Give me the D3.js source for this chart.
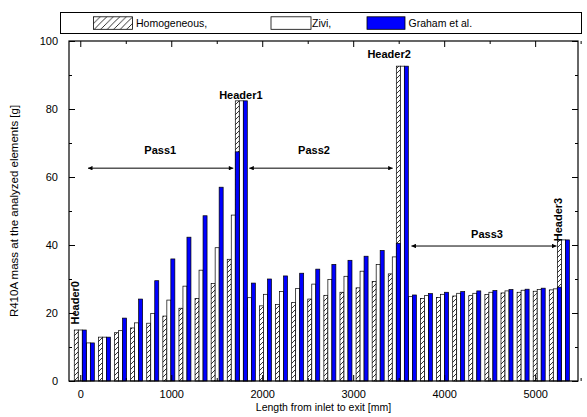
<!DOCTYPE html>
<html>
<head>
<meta charset="utf-8">
<script src="https://cdn.jsdelivr.net/npm/d3@7"></script>
<style>
  html, body { margin: 0; padding: 0; background: #fff; }
  svg { display: block; font-family: "Liberation Sans", Arial, sans-serif; }
</style>
</head>
<body>
<svg id="chart" width="587" height="417"></svg>
<script>
// ---- data ----
const positions = [0, 88.5, 265.5, 442.5, 619.5, 796.5, 973.5, 1150.5, 1327.5, 1504.5, 1681.5,
  1770, 1858.5, 2035.5, 2212.5, 2389.5, 2566.5, 2743.5, 2920.5, 3097.5, 3274.5, 3451.5,
  3540, 3628.5, 3805.5, 3982.5, 4159.5, 4336.5, 4513.5, 4690.5, 4867.5, 5044.5, 5221.5, 5310];
const homogeneous = [15, 11, 12.9, 14.2, 15.6, 17.0, 19.1, 21.4, 24.3, 28.7, 35.8,
  82.4, 21.5, 22.1, 22.5, 23.1, 24.1, 25.2, 26.1, 27.4, 29.3, 31.5,
  92.6, 24.2, 24.3, 24.6, 25.0, 25.1, 25.4, 25.9, 26.1, 26.4, 26.8, 41.5];
const zivi = [15, 11.2, 12.9, 14.8, 17.1, 19.9, 23.8, 27.9, 32.6, 39.2, 48.8,
  82.4, 24.5, 25.5, 26.3, 27.2, 28.5, 29.9, 30.8, 32.3, 34.3, 36.5,
  92.6, 24.8, 25.1, 25.5, 25.8, 25.8, 26.1, 26.5, 26.7, 26.9, 27.1, 41.5];
const graham = [15, 11.2, 12.9, 18.5, 24.1, 29.5, 35.9, 42.3, 48.6, 57.0, 67.4,
  82.4, 28.8, 30.0, 30.9, 31.7, 32.9, 34.3, 35.5, 36.7, 38.4, 40.5,
  92.6, 25.3, 25.7, 26.1, 26.3, 26.5, 26.6, 26.9, 27.0, 27.3, 27.6, 41.5];
const seriesNames = ["Homogeneous,", "Zivi,", "Graham et al."];
const xTicks = [0, 1000, 2000, 3000, 4000, 5000];
const xMinorTicks = [500, 1500, 2500, 3500, 4500, 5500];
const yTicks = [0, 20, 40, 60, 80, 100];
const yMinorTicks = [10, 30, 50, 70, 90];
const headers = [
  {name: "Header0", x: -55, y: 23, rot: true},
  {name: "Header1", x: 1765, y: 84, rot: false},
  {name: "Header2", x: 3395, y: 96.2, rot: false},
  {name: "Header3", x: 5255, y: 47.5, rot: true}
];
const passes = [
  {name: "Pass1", x0: 85, x1: 1682, y: 62.6, lx: 879, ly: 67.9},
  {name: "Pass2", x0: 1858, x1: 3434, y: 62.6, lx: 2569, ly: 67.9},
  {name: "Pass3", x0: 3640, x1: 5235, y: 39.7, lx: 4471, ly: 43.2}
];

// ---- layout ----
const svg = d3.select("#chart");
const L = 69, R = 578, T = 41, B = 381;
const x = d3.scaleLinear().domain([-124, 5471]).range([L, R]);
const y = d3.scaleLinear().domain([0, 100]).range([B, T]);
const barMM = 44; // bar width in mm units
const bw = x(barMM) - x(0);
const offsets = [-barMM, 0, barMM];

const defs = svg.append("defs");
const pat = defs.append("pattern").attr("id", "hatch").attr("patternUnits", "userSpaceOnUse")
  .attr("width", 5).attr("height", 5);
pat.append("rect").attr("width", 5).attr("height", 5).attr("fill", "#fff");
pat.append("path").attr("d", "M-1,1 L1,-1 M0,5 L5,0 M4,6 L6,4")
  .attr("stroke", "#000").attr("stroke-width", 0.8);
const pat2 = defs.append("pattern").attr("id", "hatchL").attr("patternUnits", "userSpaceOnUse")
  .attr("width", 6.5).attr("height", 6.5);
pat2.append("rect").attr("width", 6.5).attr("height", 6.5).attr("fill", "#fff");
pat2.append("path").attr("d", "M-1,1 L1,-1 M0,6.5 L6.5,0 M5.5,7.5 L7.5,5.5")
  .attr("stroke", "#000").attr("stroke-width", 0.8);

const mk = defs.append("marker").attr("id", "arr").attr("viewBox", "0 0 10 10")
  .attr("refX", 10).attr("refY", 5).attr("markerWidth", 8).attr("markerHeight", 4.5)
  .attr("markerUnits", "userSpaceOnUse").attr("orient", "auto-start-reverse");
mk.append("path").attr("d", "M0,0 L10,5 L0,10 Z").attr("fill", "#000");

const fills = ["url(#hatch)", "#fff", "#0000ff"];
const legendFills = ["url(#hatchL)", "#fff", "#0000ff"];
const seriesData = [homogeneous, zivi, graham];

// bars: series drawn in order hatched, white, blue
seriesData.forEach((vals, si) => {
  svg.append("g").selectAll("rect").data(vals).join("rect")
    .attr("x", (d, i) => x(positions[i] + offsets[si]) - bw / 2)
    .attr("width", bw)
    .attr("y", d => y(d))
    .attr("height", d => y(0) - y(d))
    .attr("fill", fills[si])
    .attr("stroke", "#000")
    .attr("stroke-width", 0.7);
});

// axes
const fontSize = "11px";
const fmt = d3.format("d");
function styleAxis(g) {
  g.selectAll("path.domain").remove();
  g.selectAll("line").attr("stroke", "#000").attr("stroke-width", 1);
  g.selectAll("text").attr("font-size", fontSize).attr("fill", "#000")
    .attr("font-family", "'Liberation Sans', Arial, sans-serif");
}
svg.append("g").attr("transform", `translate(0,${B})`)
  .call(d3.axisBottom(x).tickValues(xTicks).tickFormat(fmt).tickSize(-6).tickPadding(9).tickSizeOuter(0)).call(styleAxis);
svg.append("g").attr("transform", `translate(0,${B})`)
  .call(d3.axisBottom(x).tickValues(xMinorTicks).tickSize(-3).tickFormat("").tickSizeOuter(0)).call(styleAxis);
svg.append("g").attr("transform", `translate(0,${T})`)
  .call(d3.axisTop(x).tickValues(xTicks).tickSize(-6).tickFormat("").tickSizeOuter(0)).call(styleAxis);
svg.append("g").attr("transform", `translate(0,${T})`)
  .call(d3.axisTop(x).tickValues(xMinorTicks).tickSize(-3).tickFormat("").tickSizeOuter(0)).call(styleAxis);
svg.append("g").attr("transform", `translate(${L},0)`)
  .call(d3.axisLeft(y).tickValues(yTicks).tickFormat(fmt).tickSize(-6).tickPadding(11).tickSizeOuter(0)).call(styleAxis);
svg.append("g").attr("transform", `translate(${L},0)`)
  .call(d3.axisLeft(y).tickValues(yMinorTicks).tickSize(-3).tickFormat("").tickSizeOuter(0)).call(styleAxis);
svg.append("g").attr("transform", `translate(${R},0)`)
  .call(d3.axisRight(y).tickValues(yTicks).tickSize(-6).tickFormat("").tickSizeOuter(0)).call(styleAxis);
svg.append("g").attr("transform", `translate(${R},0)`)
  .call(d3.axisRight(y).tickValues(yMinorTicks).tickSize(-3).tickFormat("").tickSizeOuter(0)).call(styleAxis);

// frame
svg.append("rect").attr("x", L).attr("y", T).attr("width", R - L).attr("height", B - T)
  .attr("fill", "none").attr("stroke", "#000").attr("stroke-width", 1.2);

// axis titles
svg.append("text").attr("x", (L + R) / 2 + 0).attr("y", 411).attr("text-anchor", "middle")
  .attr("font-size", "10.5px").text("Length from inlet to exit [mm]");
svg.append("text").attr("transform", `translate(18,${(T + B) / 2}) rotate(-90)`)
  .attr("text-anchor", "middle").attr("font-size", "11.5px")
  .text("R410A mass at the analyzed elements [g]");

// legend
const lg = svg.append("g");
lg.append("rect").attr("x", 60.5).attr("y", 12.5).attr("width", 521).attr("height", 21)
  .attr("fill", "#fff").attr("stroke", "#000").attr("stroke-width", 1);
const legendX = [93.5, 271, 367];
const legendW = [39, 40, 38];
const legendTextX = [136, 312, 408.5];
seriesNames.forEach((n, i) => {
  lg.append("rect").attr("x", legendX[i]).attr("y", 16.8).attr("width", legendW[i]).attr("height", 12.5)
    .attr("fill", legendFills[i]).attr("stroke", "#000").attr("stroke-width", 0.8);
  lg.append("text").attr("x", legendTextX[i]).attr("y", 26.5).attr("font-size", "10.5px").text(n);
});

// header labels
headers.forEach(h => {
  const t = svg.append("text").attr("font-size", "11px").attr("font-weight", "bold")
    .attr("text-anchor", "middle").text(h.name);
  if (h.rot) t.attr("transform", `translate(${x(h.x)},${y(h.y)}) rotate(-90)`).attr("dy", "0.35em");
  else t.attr("x", x(h.x)).attr("y", y(h.y)).attr("dy", "0.35em");
});

// pass arrows + labels
passes.forEach(p => {
  svg.append("line").attr("x1", x(p.x0)).attr("x2", x(p.x1)).attr("y1", y(p.y)).attr("y2", y(p.y))
    .attr("stroke", "#000").attr("stroke-width", 1)
    .attr("marker-start", "url(#arr)").attr("marker-end", "url(#arr)");
  svg.append("text").attr("x", x(p.lx)).attr("y", y(p.ly)).attr("dy", "0.35em")
    .attr("text-anchor", "middle").attr("font-size", "11px").attr("font-weight", "bold").text(p.name);
});
</script>
</body>
</html>
